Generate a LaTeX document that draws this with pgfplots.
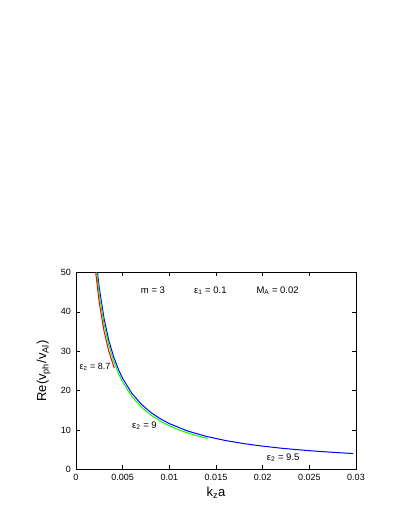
\documentclass[border=0pt]{standalone}
\usepackage{fontspec}
\setmainfont{Liberation Sans}
\usepackage{pgfplots}
\pgfplotsset{compat=1.18}
\begin{document}
\begin{tikzpicture}
\path[use as bounding box] (0pt,0pt) rectangle (411pt,532pt);
\begin{axis}[
  at={(76pt,62.5pt)}, anchor=south west,
  scale only axis, width=280pt, height=197pt,
  xmin=0, xmax=0.03, ymin=0, ymax=50,
  xtick={0,0.005,0.01,0.015,0.02,0.025,0.03},
  xticklabels={0,0.005,0.01,0.015,0.02,0.025,0.03},
  ytick={0,10,20,30,40,50},
  scaled x ticks=false,
  tick align=inside, major tick length=4pt,
  tick style={black, line width=0.5pt},
  axis line style={line width=0.6pt},
  ticklabel style={font=\fontsize{9}{10}\selectfont},
  yticklabel style={xshift=-1.5pt},
  xticklabel style={yshift=-1pt},
  /pgf/number format/assume math mode=true,
  xlabel={k\textsubscript{z}a},
  ylabel={Re(v\textsubscript{ph}/v\textsubscript{Al})},
  every axis x label/.style={at={(axis description cs:0.5,-0.12)}, anchor=center,
    font=\fontsize{13}{16}\selectfont},
  every axis y label/.style={at={(axis description cs:-0.116,0.5)}, rotate=90, anchor=center,
    font=\fontsize{13}{16}\selectfont},
  clip=true,
]
% eps2 = 9.5
\addplot[blue, line width=1pt] coordinates {
(0.0023,49.98) (0.0025,46.0) (0.003,38.37) (0.0035,32.91) (0.004,28.83)
(0.0045,25.64) (0.005,23.1) (0.006,19.28) (0.007,16.56) (0.008,14.51)
(0.009,12.92) (0.01,11.65) (0.012,9.74) (0.014,8.38) (0.016,7.36)
(0.018,6.56) (0.02,5.93) (0.022,5.40) (0.024,4.97) (0.026,4.60)
(0.028,4.29) (0.0297,4.05)};
% eps2 = 9
\addplot[green, line width=1pt] coordinates {
(0.00222,50) (0.0025,44.4) (0.003,37.0) (0.0035,31.71) (0.004,27.75)
(0.0045,24.67) (0.005,22.2) (0.006,18.5) (0.007,15.86) (0.008,13.88)
(0.009,12.33) (0.01,11.1) (0.011,10.09) (0.012,9.25) (0.013,8.54) (0.0141,7.87)};
% eps2 = 8.7
\addplot[red, line width=1pt] coordinates {
(0.00211,50) (0.0025,42.2) (0.003,35.17) (0.0035,30.14) (0.0041,25.73)};
\node[font=\fontsize{9.5}{11}\selectfont] at (axis cs:0.00825,45.4) {m = 3};
\node[font=\fontsize{9.5}{11}\selectfont] at (axis cs:0.0144,45.4) {ε\textsubscript{1} = 0.1};
\node[font=\fontsize{9.5}{11}\selectfont] at (axis cs:0.0216,45.4) {M\textsubscript{A} = 0.02};
\node[font=\fontsize{9}{11}\selectfont, anchor=east, inner sep=0pt] at (axis cs:0.0037,26) {ε\textsubscript{2} = 8.7};
\node[font=\fontsize{9.5}{11}\selectfont] at (axis cs:0.00734,11.1) {ε\textsubscript{2} = 9};
\node[font=\fontsize{9.5}{11}\selectfont] at (axis cs:0.0222,3.05) {ε\textsubscript{2} = 9.5};
\end{axis}
\end{tikzpicture}
\end{document}
